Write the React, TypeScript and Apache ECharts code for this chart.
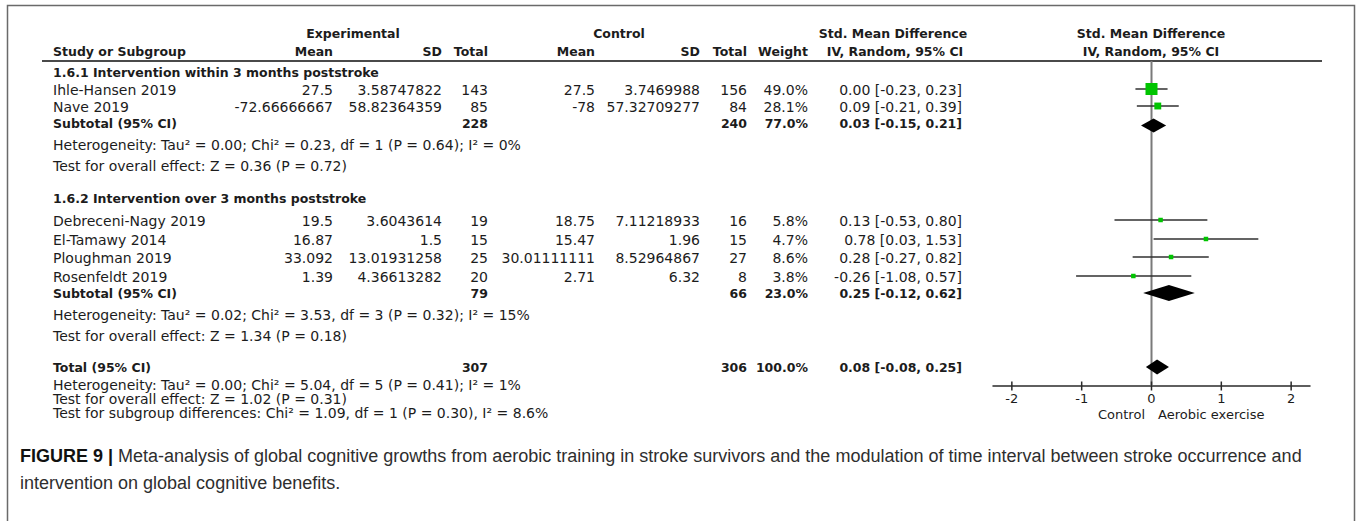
import React, { useEffect, useRef } from "react";
import * as echarts from "echarts";

// ---------- data ----------
const studies = ["Ihle-Hansen 2019", "Nave 2019", "Debreceni-Nagy 2019", "El-Tamawy 2014", "Ploughman 2019", "Rosenfeldt 2019"];
const expMean = [27.5, -72.66666667, 19.5, 16.87, 33.092, 1.39];
const expSD = [3.58747822, 58.82364359, 3.6043614, 1.5, 13.01931258, 4.36613282];
const expTotal = [143, 85, 19, 15, 25, 20];
const ctlMean = [27.5, -78, 18.75, 15.47, 30.01111111, 2.71];
const ctlSD = [3.7469988, 57.32709277, 7.11218933, 1.96, 8.52964867, 6.32];
const ctlTotal = [156, 84, 16, 15, 27, 8];
const weight = [49.0, 28.1, 5.8, 4.7, 8.6, 3.8];
const smd = [0.0, 0.09, 0.13, 0.78, 0.28, -0.26];
const ciLow = [-0.23, -0.21, -0.53, 0.03, -0.27, -1.08];
const ciHigh = [0.23, 0.39, 0.8, 1.53, 0.82, 0.57];

const groupTitles = ["1.6.1 Intervention within 3 months poststroke", "1.6.2 Intervention over 3 months poststroke"];
const subExpTotal = [228, 79];
const subCtlTotal = [240, 66];
const subWeight = [77.0, 23.0];
const subSmd = [0.03, 0.25];
const subLow = [-0.15, -0.12];
const subHigh = [0.21, 0.62];
const subHet = [
  "Heterogeneity: Tau² = 0.00; Chi² = 0.23, df = 1 (P = 0.64); I² = 0%",
  "Heterogeneity: Tau² = 0.02; Chi² = 3.53, df = 3 (P = 0.32); I² = 15%",
];
const subTest = ["Test for overall effect: Z = 0.36 (P = 0.72)", "Test for overall effect: Z = 1.34 (P = 0.18)"];

const totalLabel = "Total (95% CI)";
const totalExp = 307;
const totalCtl = 306;
const totalWeight = 100.0;
const totalSmd = 0.08;
const totalLow = -0.08;
const totalHigh = 0.25;
const totalNotes = [
  "Heterogeneity: Tau² = 0.00; Chi² = 5.04, df = 5 (P = 0.41); I² = 1%",
  "Test for overall effect: Z = 1.02 (P = 0.31)",
  "Test for subgroup differences: Chi² = 1.09, df = 1 (P = 0.30), I² = 8.6%",
];

const xTicks = [-2, -1, 0, 1, 2];
const favoursLeft = "Control";
const favoursRight = "Aerobic exercise";
const captionBold = "FIGURE 9 |";
const captionLines = [
  " Meta-analysis of global cognitive growths from aerobic training in stroke survivors and the modulation of time interval between stroke occurrence and",
  "intervention on global cognitive benefits.",
];

// ---------- layout (page pixels) ----------
const COL = { label: 53, expMean: 333, expSD: 442, expTotal: 488, ctlMean: 595, ctlSD: 700, ctlTotal: 747, weight: 808, ci: 962 };
const HDR1_Y = 33;
const HDR2_Y = 51;
const RULE_Y = 61;
const AXIS_Y = 386;
const GROUP_Y = [72, 198];
const STUDY_Y = [90, 107, 221, 240, 258, 277];
const SUB_Y = [123, 293];
const HET_Y = [145, 315];
const TEST_Y = [166, 336];
const TOTAL_Y = 367;
const TOTAL_NOTE_Y = [385, 399, 413];
const DIAMOND_H = [14, 16, 15];
const PLOT_L = 993;
const PLOT_R = 1310;
const PLOT_MIN = -2.27;
const PLOT_MAX = 2.27;

const FONT = "DejaVu Sans";
const FS = 14;
const FSB = 12.5;
const TXT = "#1c1c1c";

const fmt2 = (v: number) => v.toFixed(2);
const ciText = (e: number, l: number, h: number) => `${fmt2(e)} [${fmt2(l)}, ${fmt2(h)}]`;

function txt(text: string, x: number, y: number, align: string = "left", bold = false, size?: number): any {
  return {
    type: "text",
    x,
    y,
    silent: true,
    style: {
      text,
      fill: TXT,
      fontFamily: FONT,
      fontSize: size ?? (bold ? FSB : FS),
      fontWeight: bold ? "bold" : "normal",
      textAlign: align,
      textVerticalAlign: "middle",
    },
  };
}

export default function App() {
  const ref = useRef<HTMLDivElement>(null);
  useEffect(() => {
    if (!ref.current) return;
    const chart = echarts.init(ref.current, undefined, { renderer: "svg" });

    const g: any[] = [];
    // outer frame
    g.push({ type: "rect", silent: true, shape: { x: 7.5, y: 5.5, width: 1347, height: 540 }, style: { fill: "none", stroke: "#6a6a6a", lineWidth: 1.5 } });
    // headers
    g.push(txt("Experimental", 353, HDR1_Y, "center", true));
    g.push(txt("Control", 619, HDR1_Y, "center", true));
    g.push(txt("Std. Mean Difference", 893, HDR1_Y, "center", true));
    g.push(txt("Std. Mean Difference", 1151, HDR1_Y, "center", true));
    g.push(txt("Study or Subgroup", COL.label, HDR2_Y, "left", true));
    g.push(txt("Mean", COL.expMean, HDR2_Y, "right", true));
    g.push(txt("SD", COL.expSD, HDR2_Y, "right", true));
    g.push(txt("Total", COL.expTotal, HDR2_Y, "right", true));
    g.push(txt("Mean", COL.ctlMean, HDR2_Y, "right", true));
    g.push(txt("SD", COL.ctlSD, HDR2_Y, "right", true));
    g.push(txt("Total", COL.ctlTotal, HDR2_Y, "right", true));
    g.push(txt("Weight", COL.weight, HDR2_Y, "right", true));
    g.push(txt("IV, Random, 95% CI", 895, HDR2_Y, "center", true));
    g.push(txt("IV, Random, 95% CI", 1151, HDR2_Y, "center", true));
    g.push({ type: "line", silent: true, shape: { x1: 42, y1: RULE_Y, x2: 1322, y2: RULE_Y }, style: { stroke: "#4a4a4a", lineWidth: 2 } });

    // group titles & study rows
    groupTitles.forEach((t, gi) => g.push(txt(t, COL.label, GROUP_Y[gi], "left", true)));
    studies.forEach((s, i) => {
      const y = STUDY_Y[i];
      g.push(txt(s, COL.label, y));
      g.push(txt(String(expMean[i]), COL.expMean, y, "right"));
      g.push(txt(String(expSD[i]), COL.expSD, y, "right"));
      g.push(txt(String(expTotal[i]), COL.expTotal, y, "right"));
      g.push(txt(String(ctlMean[i]), COL.ctlMean, y, "right"));
      g.push(txt(String(ctlSD[i]), COL.ctlSD, y, "right"));
      g.push(txt(String(ctlTotal[i]), COL.ctlTotal, y, "right"));
      g.push(txt(weight[i].toFixed(1) + "%", COL.weight, y, "right"));
      g.push(txt(ciText(smd[i], ciLow[i], ciHigh[i]), COL.ci, y, "right"));
    });
    // subtotals
    [0, 1].forEach((k) => {
      const y = SUB_Y[k];
      g.push(txt("Subtotal (95% CI)", COL.label, y, "left", true));
      g.push(txt(String(subExpTotal[k]), COL.expTotal, y, "right", true));
      g.push(txt(String(subCtlTotal[k]), COL.ctlTotal, y, "right", true));
      g.push(txt(subWeight[k].toFixed(1) + "%", COL.weight, y, "right", true));
      g.push(txt(ciText(subSmd[k], subLow[k], subHigh[k]), COL.ci, y, "right", true));
      g.push(txt(subHet[k], COL.label, HET_Y[k]));
      g.push(txt(subTest[k], COL.label, TEST_Y[k]));
    });
    // total
    g.push(txt(totalLabel, COL.label, TOTAL_Y, "left", true));
    g.push(txt(String(totalExp), COL.expTotal, TOTAL_Y, "right", true));
    g.push(txt(String(totalCtl), COL.ctlTotal, TOTAL_Y, "right", true));
    g.push(txt(totalWeight.toFixed(1) + "%", COL.weight, TOTAL_Y, "right", true));
    g.push(txt(ciText(totalSmd, totalLow, totalHigh), COL.ci, TOTAL_Y, "right", true));
    totalNotes.forEach((t, i) => g.push(txt(t, COL.label, TOTAL_NOTE_Y[i])));
    // favours labels
    g.push(txt(favoursLeft, 1145, 414, "right", false, 13));
    g.push(txt(favoursRight, 1158, 414, "left", false, 13));
    // caption
    g.push({
      type: "text",
      x: 20,
      y: 456,
      silent: true,
      style: {
        text: `{b|${captionBold}}${captionLines[0]}`,
        fill: "#2e2e2e",
        fontFamily: "Liberation Sans",
        fontSize: 18,
        textVerticalAlign: "middle",
        rich: { b: { fontWeight: "bold", fill: "#111", fontFamily: "Liberation Sans", fontSize: 18 } },
      },
    });
    g.push({
      type: "text",
      x: 20,
      y: 483,
      silent: true,
      style: { text: captionLines[1], fill: "#2e2e2e", fontFamily: "Liberation Sans", fontSize: 18, textVerticalAlign: "middle" },
    });

    const studyData = studies.map((_, i) => [smd[i], ciLow[i], ciHigh[i], STUDY_Y[i] - 1, weight[i]]);
    const diamondData = [
      [subSmd[0], subLow[0], subHigh[0], SUB_Y[0] + 2.5, DIAMOND_H[0]],
      [subSmd[1], subLow[1], subHigh[1], SUB_Y[1], DIAMOND_H[1]],
      [totalSmd, totalLow, totalHigh, TOTAL_Y, DIAMOND_H[2]],
    ];

    chart.setOption({
      animation: false,
      backgroundColor: "#fff",
      grid: { left: PLOT_L, right: 1357 - PLOT_R, top: RULE_Y, height: AXIS_Y - RULE_Y, containLabel: false },
      xAxis: {
        type: "value",
        min: PLOT_MIN,
        max: PLOT_MAX,
        splitLine: { show: false },
        axisLine: { show: true, onZero: false, lineStyle: { color: "#2a2a2a", width: 1.5 } },
        axisTick: { show: false },
        axisLabel: {
          show: true,
          customValues: xTicks,
          formatter: (v: number) => String(v),
          color: TXT,
          fontFamily: FONT,
          fontSize: 13,
          margin: 6,
        },
      },
      yAxis: { type: "value", min: RULE_Y, max: AXIS_Y, inverse: true, show: false },
      graphic: { elements: g },
      series: [
        {
          type: "custom",
          name: "zero",
          z: 1,
          silent: true,
          data: [[0]],
          encode: { x: 0 },
          renderItem: (_p: any, api: any) => {
            const a = api.coord([api.value(0), RULE_Y]);
            const b = api.coord([api.value(0), AXIS_Y]);
            return { type: "line", shape: { x1: a[0], y1: a[1], x2: b[0], y2: b[1] }, style: { stroke: "#7a7a7a", lineWidth: 2 } };
          },
        },
        {
          type: "custom",
          name: "ticks",
          z: 2,
          silent: true,
          data: xTicks.map((v) => [v]),
          encode: { x: 0 },
          renderItem: (_p: any, api: any) => {
            const a = api.coord([api.value(0), AXIS_Y]);
            return { type: "line", shape: { x1: a[0], y1: a[1] - 4.5, x2: a[0], y2: a[1] + 4.5 }, style: { stroke: "#2a2a2a", lineWidth: 1.5 } };
          },
        },
        {
          type: "custom",
          name: "studies",
          z: 3,
          silent: true,
          data: studyData,
          encode: { x: [0, 1, 2], y: 3 },
          renderItem: (_p: any, api: any) => {
            const y = api.value(3);
            const lo = api.coord([api.value(1), y]);
            const hi = api.coord([api.value(2), y]);
            const e = api.coord([api.value(0), y]);
            const s = Math.max(4.5, api.value(4) * 0.245);
            return {
              type: "group",
              children: [
                { type: "line", shape: { x1: lo[0], y1: lo[1], x2: hi[0], y2: hi[1] }, style: { stroke: "#303030", lineWidth: 1.4 } },
                { type: "rect", shape: { x: e[0] - s / 2, y: e[1] - s / 2, width: s, height: s }, style: { fill: "#00c400" } },
              ],
            };
          },
        },
        {
          type: "custom",
          name: "diamonds",
          z: 3,
          silent: true,
          data: diamondData,
          encode: { x: [0, 1, 2], y: 3 },
          renderItem: (_p: any, api: any) => {
            const y = api.value(3);
            const h = api.value(4) / 2;
            const lo = api.coord([api.value(1), y]);
            const hi = api.coord([api.value(2), y]);
            const e = api.coord([api.value(0), y]);
            return {
              type: "polygon",
              shape: { points: [[lo[0], lo[1]], [e[0], e[1] - h], [hi[0], hi[1]], [e[0], e[1] + h]] },
              style: { fill: "#000" },
            };
          },
        },
      ],
    });
    return () => chart.dispose();
  }, []);
  return <div ref={ref} style={{ position: "absolute", left: 0, top: 0, width: 1357, height: 521, background: "#fff" }} />;
}
